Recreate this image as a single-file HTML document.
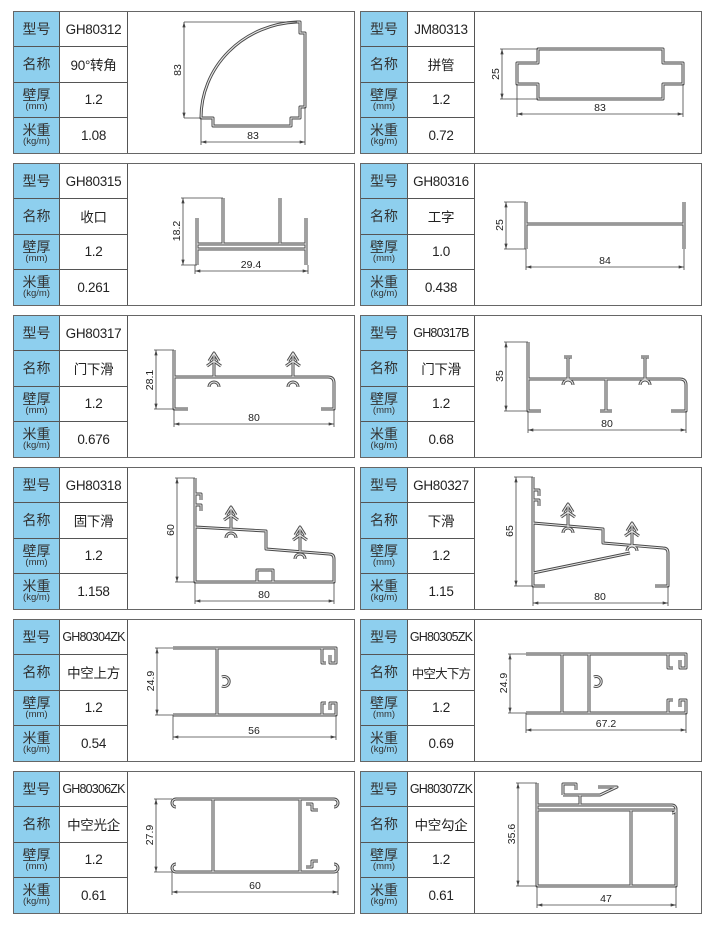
<!DOCTYPE html>
<html><head><meta charset="utf-8"><style>
body{margin:0;width:714px;height:926px;background:#fff;position:relative;overflow:hidden;font-family:"Liberation Sans","Noto Sans CJK SC",sans-serif;color:#222}
.card{position:absolute;width:340px;height:141px;border:1.5px solid #666;background:#fff}
.card .l,.card .v{position:absolute;height:35.25px;display:flex;flex-direction:column;align-items:center;justify-content:center;box-sizing:border-box;border-bottom:1.5px solid #555}
.card .l{left:0;width:46px;background:#8ecfee;border-right:1.5px solid #555;font-size:14px;line-height:14px;color:#333}
.card .v{left:46px;width:68px;border-right:1.5px solid #555;font-size:13.5px;white-space:nowrap;letter-spacing:-0.3px;overflow:hidden}
.card .v.s{font-size:12.5px;letter-spacing:-0.8px}
.card .l small{font-size:9.5px;line-height:10px}
.r .l{width:47px}.r .v{left:47px;width:67px}
.card .last{border-bottom:none}
svg{position:absolute;left:0;top:0}
.o{stroke:#4a4a4a;stroke-width:3;fill:none;stroke-linejoin:round}
.i{stroke:#e6e6e6;stroke-width:1.1;fill:none;stroke-linejoin:round}
.d{stroke:#444;stroke-width:0.8;fill:none}
text{font-family:"Liberation Sans",sans-serif;font-size:10.5px;fill:#222}
</style></head><body>

<div class="card" style="left:13px;top:11px"><div class="l" style="top:0">型号</div><div class="v" style="top:0">GH80312</div><div class="l" style="top:35.25px">名称</div><div class="v" style="top:35.25px">90°转角</div><div class="l" style="top:70.5px">壁厚<small>(mm)</small></div><div class="v" style="top:70.5px">1.2</div><div class="l last" style="top:105.75px">米重<small>(kg/m)</small></div><div class="v last" style="top:105.75px">1.08</div></div>
<div class="card r" style="left:360px;top:11px"><div class="l" style="top:0">型号</div><div class="v" style="top:0">JM80313</div><div class="l" style="top:35.25px">名称</div><div class="v" style="top:35.25px">拼管</div><div class="l" style="top:70.5px">壁厚<small>(mm)</small></div><div class="v" style="top:70.5px">1.2</div><div class="l last" style="top:105.75px">米重<small>(kg/m)</small></div><div class="v last" style="top:105.75px">0.72</div></div>

<div class="card" style="left:13px;top:163px"><div class="l" style="top:0">型号</div><div class="v" style="top:0">GH80315</div><div class="l" style="top:35.25px">名称</div><div class="v" style="top:35.25px">收口</div><div class="l" style="top:70.5px">壁厚<small>(mm)</small></div><div class="v" style="top:70.5px">1.2</div><div class="l last" style="top:105.75px">米重<small>(kg/m)</small></div><div class="v last" style="top:105.75px">0.261</div></div>
<div class="card r" style="left:360px;top:163px"><div class="l" style="top:0">型号</div><div class="v" style="top:0">GH80316</div><div class="l" style="top:35.25px">名称</div><div class="v" style="top:35.25px">工字</div><div class="l" style="top:70.5px">壁厚<small>(mm)</small></div><div class="v" style="top:70.5px">1.0</div><div class="l last" style="top:105.75px">米重<small>(kg/m)</small></div><div class="v last" style="top:105.75px">0.438</div></div>

<div class="card" style="left:13px;top:315px"><div class="l" style="top:0">型号</div><div class="v" style="top:0">GH80317</div><div class="l" style="top:35.25px">名称</div><div class="v" style="top:35.25px">门下滑</div><div class="l" style="top:70.5px">壁厚<small>(mm)</small></div><div class="v" style="top:70.5px">1.2</div><div class="l last" style="top:105.75px">米重<small>(kg/m)</small></div><div class="v last" style="top:105.75px">0.676</div></div>
<div class="card r" style="left:360px;top:315px"><div class="l" style="top:0">型号</div><div class="v s" style="top:0">GH80317B</div><div class="l" style="top:35.25px">名称</div><div class="v" style="top:35.25px">门下滑</div><div class="l" style="top:70.5px">壁厚<small>(mm)</small></div><div class="v" style="top:70.5px">1.2</div><div class="l last" style="top:105.75px">米重<small>(kg/m)</small></div><div class="v last" style="top:105.75px">0.68</div></div>

<div class="card" style="left:13px;top:467px"><div class="l" style="top:0">型号</div><div class="v" style="top:0">GH80318</div><div class="l" style="top:35.25px">名称</div><div class="v" style="top:35.25px">固下滑</div><div class="l" style="top:70.5px">壁厚<small>(mm)</small></div><div class="v" style="top:70.5px">1.2</div><div class="l last" style="top:105.75px">米重<small>(kg/m)</small></div><div class="v last" style="top:105.75px">1.158</div></div>
<div class="card r" style="left:360px;top:467px"><div class="l" style="top:0">型号</div><div class="v" style="top:0">GH80327</div><div class="l" style="top:35.25px">名称</div><div class="v" style="top:35.25px">下滑</div><div class="l" style="top:70.5px">壁厚<small>(mm)</small></div><div class="v" style="top:70.5px">1.2</div><div class="l last" style="top:105.75px">米重<small>(kg/m)</small></div><div class="v last" style="top:105.75px">1.15</div></div>

<div class="card" style="left:13px;top:619px"><div class="l" style="top:0">型号</div><div class="v s" style="top:0">GH80304ZK</div><div class="l" style="top:35.25px">名称</div><div class="v" style="top:35.25px">中空上方</div><div class="l" style="top:70.5px">壁厚<small>(mm)</small></div><div class="v" style="top:70.5px">1.2</div><div class="l last" style="top:105.75px">米重<small>(kg/m)</small></div><div class="v last" style="top:105.75px">0.54</div></div>
<div class="card r" style="left:360px;top:619px"><div class="l" style="top:0">型号</div><div class="v s" style="top:0">GH80305ZK</div><div class="l" style="top:35.25px">名称</div><div class="v s" style="top:35.25px">中空大下方</div><div class="l" style="top:70.5px">壁厚<small>(mm)</small></div><div class="v" style="top:70.5px">1.2</div><div class="l last" style="top:105.75px">米重<small>(kg/m)</small></div><div class="v last" style="top:105.75px">0.69</div></div>

<div class="card" style="left:13px;top:771px"><div class="l" style="top:0">型号</div><div class="v s" style="top:0">GH80306ZK</div><div class="l" style="top:35.25px">名称</div><div class="v" style="top:35.25px">中空光企</div><div class="l" style="top:70.5px">壁厚<small>(mm)</small></div><div class="v" style="top:70.5px">1.2</div><div class="l last" style="top:105.75px">米重<small>(kg/m)</small></div><div class="v last" style="top:105.75px">0.61</div></div>
<div class="card r" style="left:360px;top:771px"><div class="l" style="top:0">型号</div><div class="v s" style="top:0">GH80307ZK</div><div class="l" style="top:35.25px">名称</div><div class="v" style="top:35.25px">中空勾企</div><div class="l" style="top:70.5px">壁厚<small>(mm)</small></div><div class="v" style="top:70.5px">1.2</div><div class="l last" style="top:105.75px">米重<small>(kg/m)</small></div><div class="v last" style="top:105.75px">0.61</div></div>

<svg width="714" height="926" viewBox="0 0 714 926">
<defs>
<marker id="a" viewBox="0 0 10 6" refX="10" refY="3" markerWidth="7" markerHeight="4" orient="auto-start-reverse"><path d="M0,0 L10,3 L0,6 Z" fill="#444"/></marker>
<g id="prof">
<path d="M201,118 A100,96 0 0 1 297,22 L300,22 L300,33 L305,33 L305,107 L300,107 L300,118 L291,118 L291,126 L213,126 L213,118 Z"/>
<path d="M538,49 L663,49 L663,63 L683,63 L683,84 L663,84 L663,99 L538,99 L538,84 L517,84 L517,63 L538,63 Z"/>
<path d="M197,244 L306,244 M197,249 L306,249 M197,218 L197,265 M306,218 L306,265 M223,198 L223,244 M280,198 L280,244"/>
<path d="M526,202 L526,249 M684,202 L684,249 M526,224 L684,224"/>
<path d="M174,350 L174,409 L188,409 M174,377 L328,377 Q334,377 334,383 L334,409 L321,409 M214,354 L214,377 M209,361 L214,353 L219,361 M207,366 L214,361 L221,366 M209,387 A5,5 0 1 1 219,387 M293,354 L293,377 M288,361 L293,353 L298,361 M286,366 L293,361 L300,366 M288,387 A5,5 0 1 1 298,387"/>
<path d="M528,342 L528,411 L541,411 M528,379 L680,379 Q686,379 686,385 L686,411 L671,411 M606,379 L606,411 M600,411 L612,411 M568,358 L568,379 M564,357 L572,357 M563,385 A5,5 0 1 1 573,385 M645,358 L645,379 M641,357 L649,357 M640,385 A5,5 0 1 1 650,385"/>
<path d="M195,478 L195,582 L334,582 L334,559 Q334,554 329,554 L266,549 L266,531 L195,527 M257,582 L257,570 L273,570 L273,582 M231,508 L231,529 M226,515 L231,507 L236,515 M224,520 L231,515 L238,520 M226,538 A5,5 0 1 1 236,538 M300,528 L300,551 M295,535 L300,527 L305,535 M293,540 L300,535 L307,540 M295,559 A5,5 0 1 1 305,559 M195,494 L201,494 L201,500 M195,505 L201,505 L201,511"/>
<path d="M533,477 L533,586 L545,586 M533,523 L603,529 L603,543 L663,548 Q668,548 668,553 L668,586 L655,586 M533,573 L630,553 M568,505 L568,527 M563,512 L568,504 L573,512 M561,517 L568,512 L575,517 M563,533 A5,5 0 1 1 573,533 M632,524 L632,545 M627,531 L632,523 L637,531 M625,536 L632,531 L639,536 M627,551 A5,5 0 1 1 637,551 M533,490 L539,490 L539,496 M533,500 L539,500 L539,506"/>
<path d="M173,648 L336,648 L336,663 L330,663 L330,655 M173,715 L336,715 L336,703 L330,703 L330,710 M217,648 L217,715 M322,648 L322,663 L326,663 M322,715 L322,703 L326,703 M222,677 A5,5 0 1 1 222,686"/>
<path d="M526,654 L686,654 L686,668 L680,668 L680,660 M526,713 L686,713 L686,700 L680,700 L680,707 M562,654 L562,713 M589,654 L589,713 M668,654 L668,668 L673,668 M668,713 L668,700 L673,700 M594,677 A5,5 0 1 1 594,686"/>
<path d="M176,799 L334,799 A4,4 0 0 1 334,807 M176,872 L334,872 A4,4 0 0 0 334,864 M176,799 A4,4 0 0 0 176,807 M176,872 A4,4 0 0 1 176,864 M213,799 L213,872 M300,799 L300,872 M306,804 L312,804 L312,810 L318,810 M306,867 L312,867 L312,861 L318,861"/>
<path d="M537,783 L537,886 L676,886 L676,882 M537,805 L672,805 A4,4 0 0 1 672,813 M537,810 L676,810 L676,886 M631,810 L631,886 M580,805 L580,795 M563,795 L600,795 L617,787 L598,787 M563,795 L563,784 L576,784 L576,790"/>
</g>
</defs>
<use href="#prof" class="o"/>
<use href="#prof" class="i"/>

<g class="d">
<path d="M184,22 L297,22 M184,118 L201,118" /><line x1="184" y1="22" x2="184" y2="118" marker-start="url(#a)" marker-end="url(#a)"/>
<path d="M500,49 L538,49 M500,99 L538,99"/><line x1="502" y1="49" x2="502" y2="99" marker-start="url(#a)" marker-end="url(#a)"/>
<path d="M181,198 L223,198 M181,265 L197,265"/><line x1="183" y1="198" x2="183" y2="265" marker-start="url(#a)" marker-end="url(#a)"/>
<path d="M504,202 L526,202 M504,249 L526,249"/><line x1="506" y1="202" x2="506" y2="249" marker-start="url(#a)" marker-end="url(#a)"/>
<path d="M154,350 L174,350 M154,409 L174,409"/><line x1="156" y1="350" x2="156" y2="409" marker-start="url(#a)" marker-end="url(#a)"/>
<path d="M504,342 L528,342 M504,411 L528,411"/><line x1="506" y1="342" x2="506" y2="411" marker-start="url(#a)" marker-end="url(#a)"/>
<path d="M175,478 L195,478 M175,582 L195,582"/><line x1="177" y1="478" x2="177" y2="582" marker-start="url(#a)" marker-end="url(#a)"/>
<path d="M514,477 L533,477 M514,586 L533,586"/><line x1="516" y1="477" x2="516" y2="586" marker-start="url(#a)" marker-end="url(#a)"/>
<path d="M155,648 L173,648 M155,715 L173,715"/><line x1="157" y1="648" x2="157" y2="715" marker-start="url(#a)" marker-end="url(#a)"/>
<path d="M508,654 L526,654 M508,713 L526,713"/><line x1="510" y1="654" x2="510" y2="713" marker-start="url(#a)" marker-end="url(#a)"/>
<path d="M154,799 L172,799 M154,872 L172,872"/><line x1="156" y1="799" x2="156" y2="872" marker-start="url(#a)" marker-end="url(#a)"/>
<path d="M516,783 L537,783 M516,886 L537,886"/><line x1="518" y1="783" x2="518" y2="886" marker-start="url(#a)" marker-end="url(#a)"/>
<path d="M201,118 L201,145 M305,107 L305,145"/><line x1="201" y1="142" x2="305" y2="142" marker-start="url(#a)" marker-end="url(#a)"/>
<path d="M517,84 L517,117 M683,84 L683,117"/><line x1="517" y1="114" x2="683" y2="114" marker-start="url(#a)" marker-end="url(#a)"/>
<path d="M195,265 L195,274 M308,265 L308,274"/><line x1="195" y1="271" x2="308" y2="271" marker-start="url(#a)" marker-end="url(#a)"/>
<path d="M526,249 L526,270 M684,249 L684,270"/><line x1="526" y1="267" x2="684" y2="267" marker-start="url(#a)" marker-end="url(#a)"/>
<path d="M174,409 L174,427 M334,409 L334,427"/><line x1="174" y1="424" x2="334" y2="424" marker-start="url(#a)" marker-end="url(#a)"/>
<path d="M528,411 L528,433 M686,411 L686,433"/><line x1="528" y1="430" x2="686" y2="430" marker-start="url(#a)" marker-end="url(#a)"/>
<path d="M195,582 L195,604 M334,582 L334,604"/><line x1="195" y1="601" x2="334" y2="601" marker-start="url(#a)" marker-end="url(#a)"/>
<path d="M533,586 L533,606 M668,586 L668,606"/><line x1="533" y1="603" x2="668" y2="603" marker-start="url(#a)" marker-end="url(#a)"/>
<path d="M173,715 L173,740 M336,715 L336,740"/><line x1="173" y1="737" x2="336" y2="737" marker-start="url(#a)" marker-end="url(#a)"/>
<path d="M526,713 L526,733 M686,713 L686,733"/><line x1="526" y1="730" x2="686" y2="730" marker-start="url(#a)" marker-end="url(#a)"/>
<path d="M172,872 L172,895 M338,872 L338,895"/><line x1="172" y1="892" x2="338" y2="892" marker-start="url(#a)" marker-end="url(#a)"/>
<path d="M537,886 L537,908 M676,886 L676,908"/><line x1="537" y1="905" x2="676" y2="905" marker-start="url(#a)" marker-end="url(#a)"/>
</g>

<g text-anchor="middle">
<text x="253" y="139">83</text>
<text x="600" y="111">83</text>
<text x="251" y="268">29.4</text>
<text x="605" y="264">84</text>
<text x="254" y="421">80</text>
<text x="607" y="427">80</text>
<text x="264" y="598">80</text>
<text x="600" y="600">80</text>
<text x="254" y="734">56</text>
<text x="606" y="727">67.2</text>
<text x="255" y="889">60</text>
<text x="606" y="902">47</text>
<text transform="translate(181,70) rotate(-90)">83</text>
<text transform="translate(499,74) rotate(-90)">25</text>
<text transform="translate(180,231) rotate(-90)">18.2</text>
<text transform="translate(503,225) rotate(-90)">25</text>
<text transform="translate(153,380) rotate(-90)">28.1</text>
<text transform="translate(503,376) rotate(-90)">35</text>
<text transform="translate(174,530) rotate(-90)">60</text>
<text transform="translate(513,531) rotate(-90)">65</text>
<text transform="translate(154,681) rotate(-90)">24.9</text>
<text transform="translate(507,683) rotate(-90)">24.9</text>
<text transform="translate(153,835) rotate(-90)">27.9</text>
<text transform="translate(515,834) rotate(-90)">35.6</text>
</g>
</svg>
</body></html>
